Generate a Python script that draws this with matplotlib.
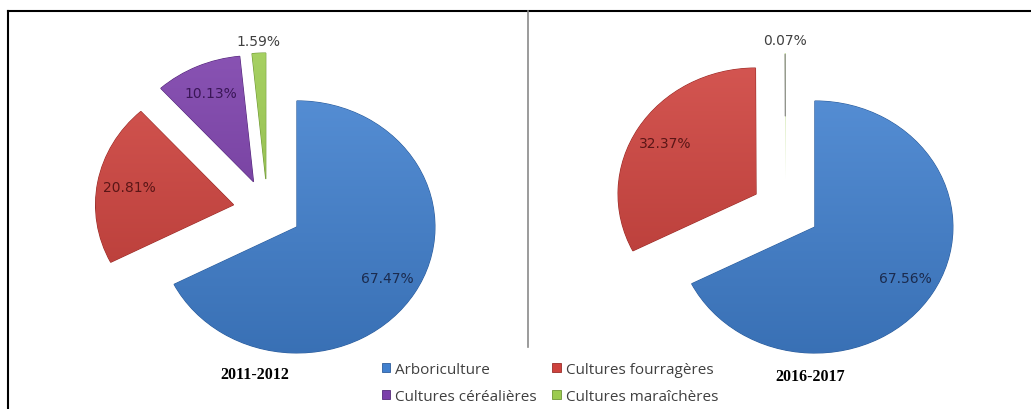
import numpy as np
import matplotlib.pyplot as plt
from matplotlib.patches import Patch
from matplotlib.lines import Line2D
from matplotlib.colors import to_rgb

# surfaces (%) par type de culture
cultures = ["Arboriculture", "Cultures fourragères",
            "Cultures céréalières", "Cultures maraîchères"]
parts_2011 = [67.47, 20.81, 10.13, 1.59]
parts_2016 = [67.56, 32.37, 0.0, 0.07]
campagnes = ["2011-2012", "2016-2017"]

couleurs = ["#4180CE", "#CE423D", "#7B3FAA", "#9CCB50"]
bords = ["#2E5E9C", "#9A2E2A", "#55297A", "#6E9635"]
couleurs_txt = ["#1B2B4E", "#5A1616", "#3A1656", "#404040"]

W, H = 1031, 410
RX, RY = 138, 126          # demi-axes de l'ellipse en pixels

fig = plt.figure(figsize=(W / 100, H / 100), dpi=100)


def degrade(ax, w, couleur):
    # remplissage en degrade vertical (clair en haut, fonce en bas) dans la part
    c = np.array(to_rgb(couleur))
    t = np.linspace(0, 1, 64)[:, None]
    haut = c + (1 - c) * 0.10
    bas = c * 0.88
    img = (haut * (1 - t) + bas * t)[:, None, :]
    ox, oy = w.center
    im = ax.imshow(img, extent=(ox - 1, ox + 1, oy - 1, oy + 1),
                   aspect="auto", interpolation="bilinear", zorder=w.get_zorder())
    im.set_clip_path(w)


def camembert(cx, cy, valeurs, titre, tx, ty):
    # axe plein cadre, echelle choisie pour avoir RX x RY pixels par unite
    ax = fig.add_axes([0, 0, 1, 1])
    ax.patch.set_alpha(0)
    wedges, _ = ax.pie(valeurs, startangle=90, counterclock=False,
                       explode=[0.25] * len(valeurs), colors=couleurs,
                       wedgeprops=dict(linewidth=0.8))
    for w, v, c, b in zip(wedges, valeurs, couleurs, bords):
        w.set_edgecolor(b)
        if v < 0.5:
            w.set_linewidth(0)
        else:
            degrade(ax, w, c)
    ax.set_aspect("auto")
    ax.set_xlim(-cx / RX, (W - cx) / RX)
    ax.set_ylim(-(H - cy) / RY, cy / RY)
    ax.axis("off")

    for i, (w, v) in enumerate(zip(wedges, valeurs)):
        if v == 0:
            continue
        mid = np.deg2rad((w.theta1 + w.theta2) / 2)
        ox, oy = w.center
        txt = f"{v:.2f}%"
        if v < 5:
            pos = (ox + 1.1 * np.cos(mid), oy + 1.1 * np.sin(mid))
            if v < 0.5:
                # fine tranche : ligne de rappel vers l'etiquette
                ax.annotate(txt, xy=(ox + 0.5 * np.cos(mid), oy + 0.5 * np.sin(mid)),
                            xytext=pos, ha="center", va="center",
                            fontsize=10, color="#404040", zorder=5,
                            arrowprops=dict(arrowstyle="-", color="#808080",
                                            lw=0.8, shrinkA=3, shrinkB=0))
            else:
                ax.text(*pos, txt, ha="center", va="center",
                        fontsize=10, color="#404040", zorder=5)
        else:
            pos = (ox + 0.77 * np.cos(mid), oy + 0.77 * np.sin(mid))
            ax.text(*pos, txt, ha="center", va="center",
                    fontsize=10, color=couleurs_txt[i], zorder=5)

    fig.text(tx / W, 1 - ty / H, titre, ha="center", va="center",
             family="Liberation Serif", fontweight="bold", fontsize=11.5)


camembert(267.5, 211.5, parts_2011, campagnes[0], 255, 375)
camembert(785.5, 211.5, parts_2016, campagnes[1], 810, 377)

# cadre et separation
fig.add_artist(Line2D([8 / W, 1], [1 - 12 / H] * 2, color="black", lw=1.5))
fig.add_artist(Line2D([8 / W] * 2, [0, 1 - 12 / H], color="black", lw=1.5))
fig.add_artist(Line2D([528 / W] * 2, [1 - 12 / H, 1 - 348 / H],
                      color="#8A8A8A", lw=1.2))

# legende remplie par lignes
ordre = [0, 2, 1, 3]
poignees = [Patch(facecolor=couleurs[i], edgecolor=bords[i], lw=0.6) for i in ordre]
fig.legend(poignees, [cultures[i] for i in ordre], ncol=2, loc="center left",
           bbox_to_anchor=(374 / W, 1 - 384 / H), frameon=False, borderpad=0,
           handlelength=0.55, handleheight=0.55, handletextpad=0.35,
           columnspacing=1.0, labelspacing=0.75,
           prop=dict(family="Open Sans", size=11), labelcolor="#404040")

fig.savefig("out.png", dpi=100)
